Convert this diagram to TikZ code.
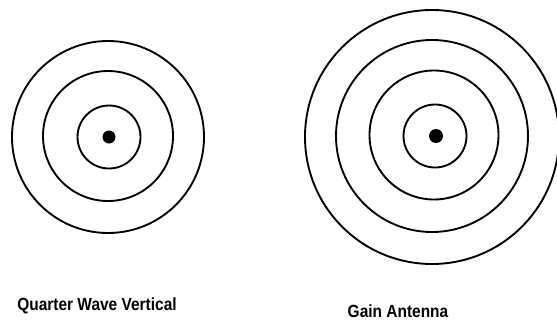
\documentclass[tikz,border=0pt]{standalone}
\usepackage{fontspec}
\setmainfont{Liberation Sans}
\usepackage{tikz}
\tikzset{
	ring/.style={black, line width=1.6pt},
	feed/.style={black, fill=black},
	caption/.style={black, font=\fontsize{15}{17}\selectfont\bfseries, xscale=0.88, inner sep=0pt}
}

\begin{document}
\begin{tikzpicture}[x=0.03cm, y=0.03cm]
			
			% Frame of the page
			\useasboundingbox (0,0) rectangle (557,323);
			
			% Quarter wave vertical: rings of equal field strength
			\draw[ring] (108,186) circle (96);
			\draw[ring] (108,187) circle (65);
			\draw[ring] (109,186) circle (31.5);
			\fill[feed] (109,186) circle (6.5);
			
			% Gain antenna: one more ring, pushed further out
			\draw[ring] (432,186) circle (127);
			\draw[ring] (432,187) circle (96);
			\draw[ring] (434,188) circle (64.5);
			\draw[ring] (435,187) circle (31.5);
			\fill[feed] (436,187) circle (7);
			
			% Labels below
			\node[caption] (qwv) at (97,17) {Quarter Wave Vertical};
			\node[caption] (gain) at (398,12) {Gain Antenna};
			
		\end{tikzpicture}
\end{document}
